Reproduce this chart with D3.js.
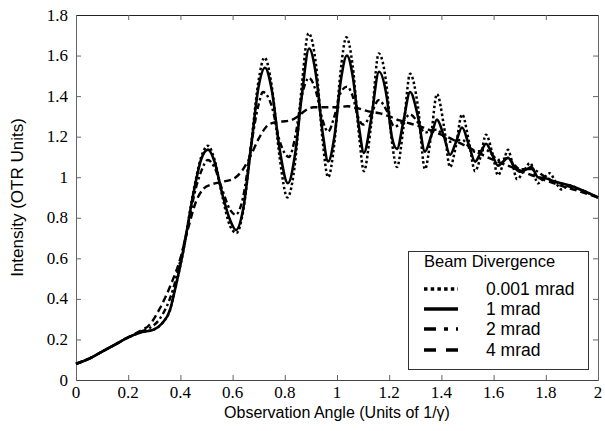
<!DOCTYPE html>
<html><head><meta charset="utf-8">
<script src="https://cdn.jsdelivr.net/npm/d3@7"></script>
<style>body{margin:0;background:#fff}svg{display:block}</style>
</head><body>
<svg id="c" width="605" height="431"></svg>
<script>
const xTicks = [0,0.2,0.4,0.6,0.8,1,1.2,1.4,1.6,1.8,2];
const yTicks = [0,0.2,0.4,0.6,0.8,1,1.2,1.4,1.6,1.8];
const seriesNames = ["0.001 mrad","1 mrad","2 mrad","4 mrad"];
const legendTitle = "Beam Divergence";

const x001 = [0,0.05,0.1,0.15,0.2,0.25,0.3,0.33,0.36,0.38,0.41,0.45,0.48,0.505,0.53,0.56,0.59,0.615,0.64,0.67,0.70,0.722,0.75,0.78,0.81,0.84,0.865,0.891,0.92,0.945,0.966,0.99,1.012,1.036,1.06,1.085,1.103,1.13,1.16,1.19,1.21,1.23,1.255,1.28,1.31,1.337,1.36,1.383,1.41,1.433,1.455,1.479,1.505,1.529,1.55,1.571,1.595,1.617,1.635,1.655,1.67,1.69,1.715,1.74,1.77,1.795,1.815,1.84,1.86,1.89,1.93,2.0];
const y001 = [0.08,0.105,0.14,0.175,0.21,0.235,0.25,0.28,0.345,0.45,0.63,0.93,1.10,1.155,1.09,0.91,0.76,0.725,0.83,1.15,1.48,1.59,1.45,1.10,0.90,1.08,1.45,1.71,1.55,1.18,1.00,1.17,1.50,1.69,1.55,1.20,1.03,1.25,1.61,1.45,1.18,1.05,1.25,1.51,1.35,1.04,1.20,1.41,1.25,1.05,1.15,1.31,1.18,1.03,1.10,1.21,1.12,1.01,1.06,1.135,1.08,0.99,1.03,1.07,0.97,1.0,1.02,0.97,0.94,0.96,0.94,0.90];

const x1 = [0,0.05,0.1,0.15,0.2,0.25,0.3,0.33,0.36,0.38,0.41,0.45,0.48,0.506,0.53,0.56,0.59,0.613,0.64,0.67,0.70,0.724,0.75,0.78,0.812,0.84,0.865,0.893,0.92,0.945,0.966,0.99,1.015,1.038,1.06,1.085,1.103,1.13,1.161,1.19,1.21,1.23,1.255,1.28,1.31,1.337,1.36,1.383,1.41,1.433,1.455,1.479,1.505,1.529,1.55,1.571,1.595,1.617,1.635,1.655,1.68,1.70,1.72,1.745,1.77,1.80,1.83,1.86,1.9,1.95,2.0];
const y1 = [0.08,0.105,0.14,0.175,0.21,0.235,0.25,0.28,0.345,0.45,0.63,0.92,1.09,1.136,1.08,0.92,0.79,0.74,0.84,1.14,1.45,1.54,1.43,1.14,0.97,1.12,1.40,1.635,1.50,1.22,1.078,1.20,1.48,1.60,1.50,1.24,1.12,1.28,1.52,1.40,1.20,1.14,1.28,1.42,1.30,1.126,1.20,1.284,1.20,1.11,1.17,1.245,1.16,1.077,1.12,1.165,1.11,1.057,1.075,1.096,1.05,1.027,1.035,1.05,1.0,0.995,0.98,0.97,0.955,0.93,0.90];

const x2 = [0,0.05,0.1,0.15,0.2,0.25,0.28,0.32,0.37,0.40,0.43,0.46,0.48,0.505,0.53,0.56,0.59,0.612,0.64,0.67,0.70,0.716,0.75,0.78,0.816,0.84,0.865,0.893,0.92,0.945,0.966,0.99,1.015,1.038,1.06,1.08,1.10,1.13,1.16,1.19,1.22,1.25,1.28,1.31,1.337,1.36,1.383,1.41,1.433,1.455,1.48,1.505,1.53,1.55,1.57,1.595,1.617,1.635,1.655,1.68,1.70,1.745,1.8,1.86,1.9,1.95,2.0];
const y2 = [0.08,0.105,0.14,0.175,0.21,0.24,0.255,0.30,0.44,0.59,0.77,0.95,1.03,1.085,1.05,0.94,0.84,0.815,0.90,1.15,1.36,1.42,1.35,1.18,1.10,1.20,1.40,1.49,1.42,1.28,1.225,1.30,1.42,1.447,1.40,1.30,1.26,1.31,1.38,1.33,1.25,1.27,1.31,1.27,1.22,1.23,1.235,1.20,1.175,1.18,1.185,1.15,1.125,1.13,1.135,1.11,1.085,1.09,1.095,1.06,1.04,1.04,1.0,0.965,0.95,0.93,0.90];

const x4 = [0,0.05,0.1,0.15,0.2,0.25,0.28,0.32,0.36,0.40,0.43,0.46,0.49,0.52,0.55,0.6,0.635,0.667,0.70,0.73,0.76,0.79,0.82,0.85,0.88,0.91,0.95,1.0,1.04,1.08,1.12,1.165,1.2,1.24,1.28,1.32,1.37,1.42,1.46,1.5,1.55,1.6,1.675,1.766,1.866,1.93,2.0];
const y4 = [0.08,0.105,0.14,0.175,0.21,0.245,0.27,0.35,0.46,0.60,0.75,0.88,0.945,0.965,0.975,0.99,1.03,1.10,1.19,1.25,1.27,1.275,1.28,1.30,1.33,1.345,1.345,1.345,1.35,1.34,1.325,1.315,1.30,1.28,1.265,1.25,1.225,1.20,1.175,1.15,1.115,1.085,1.047,1.0,0.955,0.93,0.90];

const svg = d3.select("#c");
const L = 76, R = 598, T = 15, B = 380;
const x = d3.scaleLinear().domain([0,2]).range([L,R]);
const y = d3.scaleLinear().domain([0,1.8]).range([B,T]);
const axisCol = "#666";

svg.append("line").attr("x1",L).attr("x2",R).attr("y1",T+0.5).attr("y2",T+0.5).attr("stroke","#222");
svg.append("line").attr("x1",L).attr("x2",R).attr("y1",B+0.5).attr("y2",B+0.5).attr("stroke","#444");
svg.append("line").attr("x1",L+0.5).attr("x2",L+0.5).attr("y1",T).attr("y2",B+1).attr("stroke",axisCol);
svg.append("line").attr("x1",R+0.5).attr("x2",R+0.5).attr("y1",T).attr("y2",B+1).attr("stroke",axisCol);

const sans = "'Liberation Sans',Arial,sans-serif";
const serif = "'Times New Roman','Liberation Serif',Times,serif";

// tick labels drawn as plain text from the tick arrays via the scales
xTicks.forEach(v=>{
  svg.append("text").attr("x",x(v)).attr("y",B+18).attr("text-anchor","middle")
    .style("font-family",serif).style("font-size","17px").text(d3.format("")(v));
});
yTicks.forEach(v=>{
  svg.append("text").attr("x",L-8).attr("y",y(v)+5.5).attr("text-anchor","end")
    .style("font-family",serif).style("font-size","17px").text(d3.format("")(v));
});
xTicks.slice(1,-1).forEach(v=>{
  svg.append("line").attr("x1",x(v)+0.5).attr("x2",x(v)+0.5).attr("y1",B).attr("y2",B-5).attr("stroke",axisCol);
  svg.append("line").attr("x1",x(v)+0.5).attr("x2",x(v)+0.5).attr("y1",T).attr("y2",T+5).attr("stroke",axisCol);
});
yTicks.slice(1,-1).forEach(v=>{
  svg.append("line").attr("x1",L).attr("x2",L+5).attr("y1",y(v)+0.5).attr("y2",y(v)+0.5).attr("stroke",axisCol);
  svg.append("line").attr("x1",R).attr("x2",R-5).attr("y1",y(v)+0.5).attr("y2",y(v)+0.5).attr("stroke",axisCol);
});

svg.append("text").attr("x",337).attr("y",418).attr("text-anchor","middle")
  .attr("font-family",sans).attr("font-size",16).text("Observation Angle (Units of 1/\u03B3)");
svg.append("text").attr("transform",`translate(23,${(T+B)/2}) rotate(-90)`).attr("text-anchor","middle")
  .attr("font-family",sans).attr("font-size",17).text("Intensity (OTR Units)");

const series = [
  {name:seriesNames[0], xs:x001, ys:y001, dash:"2.5,2.5", w:2.5, ldash:"3.5,3.2"},
  {name:seriesNames[1], xs:x1, ys:y1, dash:null, w:2.6, ldash:null},
  {name:seriesNames[2], xs:x2, ys:y2, dash:"6,3,2.5,3", w:2.4, ldash:"12,8,4,8"},
  {name:seriesNames[3], xs:x4, ys:y4, dash:"7,4", w:2.4, ldash:"12,10"}
];
const line = d3.line().x(d=>x(d[0])).y(d=>y(d[1])).curve(d3.curveMonotoneX);
[3,2,0,1].forEach(i=>{
  const s = series[i];
  const pts = s.xs.map((v,j)=>[v,s.ys[j]]);
  svg.append("path").attr("d",line(pts)).attr("fill","none").attr("stroke","#000")
    .attr("stroke-width",s.w).attr("stroke-dasharray",s.dash);
});

const lg = svg.append("g");
lg.append("rect").attr("x",408.5).attr("y",251.5).attr("width",180).attr("height",118)
  .attr("fill","#fff").attr("stroke","#333");
lg.append("text").attr("x",424).attr("y",267).attr("font-family",sans).attr("font-size",16.5).text(legendTitle);
const ly = [289,309,329,350];
series.forEach((s,i)=>{
  lg.append("line").attr("x1",424).attr("x2",458).attr("y1",ly[i]).attr("y2",ly[i])
    .attr("stroke","#000").attr("stroke-width",3.5).attr("stroke-dasharray",s.ldash);
  lg.append("text").attr("x",486).attr("y",ly[i]+6).attr("font-family",sans).attr("font-size",17.5).text(s.name);
});
</script>
</body></html>
